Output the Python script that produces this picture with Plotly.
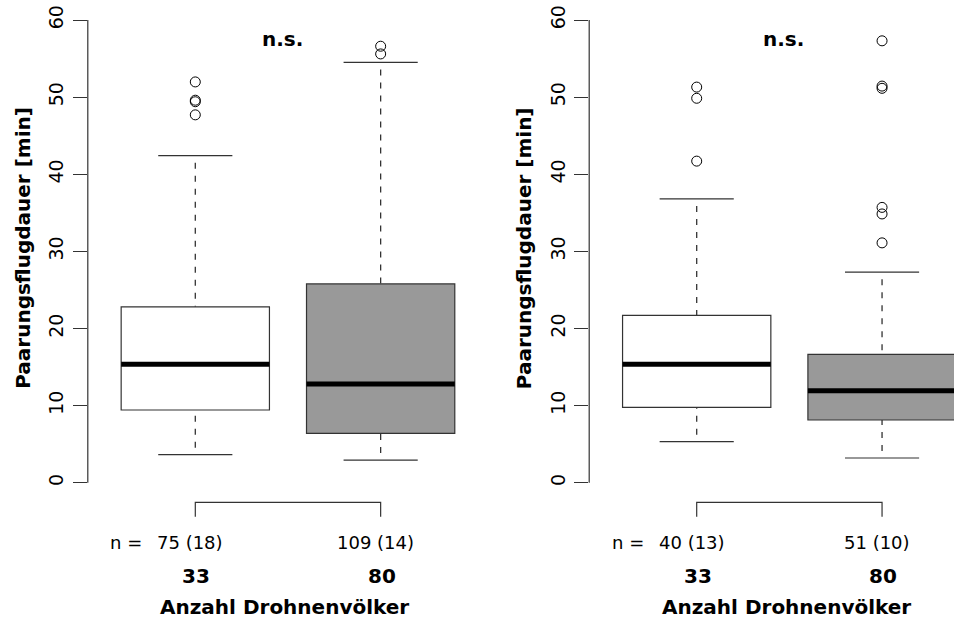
import plotly.graph_objects as go

# ---------------- data ----------------
groups = [1, 2]
group_labels = ["33", "80"]
box_colors = ["white", "#999999"]
y_ticks = [0, 10, 20, 30, 40, 50, 60]

# left panel
a_q1 = [9.43, 6.4]
a_med = [15.35, 12.8]
a_q3 = [22.8, 25.77]
a_wlo = [3.63, 2.94]
a_whi = [42.4, 54.5]
a_out = [[51.97, 49.6, 49.4, 47.7], [56.6, 55.6]]
a_n = ["75 (18)", "109 (14)"]

# right panel
b_q1 = [9.78, 8.13]
b_med = [15.35, 11.93]
b_q3 = [21.7, 16.65]
b_wlo = [5.32, 3.2]
b_whi = [36.8, 27.3]
b_out = [[51.3, 49.85, 41.7], [57.3, 51.43, 51.14, 35.7, 34.85, 31.1]]
b_n = ["40 (13)", "51 (10)"]

sig_label = "n.s."
x_title = "Anzahl Drohnenvölker"
y_title = "Paarungsflugdauer [min]"

# ---------------- geometry / style ----------------
W, H = 954, 621
FONT = "DejaVu Sans"
UNIT_PX = 185.35          # px per x unit
XR0 = 0.42
Y_TOP = 62.593
Y_BOT = -17.934
BOXHALF = 0.4
CAPHALF = 0.2
LINE_COL = "#333333"

def yp(px):
    return 1 - px / H

panels = [
    dict(xr="x", yr="y", left_px=87.8, q1=a_q1, med=a_med, q3=a_q3,
         wlo=a_wlo, whi=a_whi, out=a_out, n=a_n),
    dict(xr="x2", yr="y2", left_px=589.2, q1=b_q1, med=b_med, q3=b_q3,
         wlo=b_wlo, whi=b_whi, out=b_out, n=b_n),
]

fig = go.Figure()
shapes = []
annotations = []

for p in panels:
    xr, yr = p["xr"], p["yr"]
    for i, g in enumerate(groups):
        # whiskers (dashed), drawn from whisker end toward the box
        for wend, bedge in ((p["whi"][i], p["q3"][i]), (p["wlo"][i], p["q1"][i])):
            shapes.append(dict(type="line", xref=xr, yref=yr, x0=g, x1=g,
                               y0=wend, y1=bedge,
                               line=dict(color=LINE_COL, width=1.3, dash="0px,7px,6px,0px")))
            shapes.append(dict(type="line", xref=xr, yref=yr,
                               x0=g - CAPHALF, x1=g + CAPHALF, y0=wend, y1=wend,
                               line=dict(color=LINE_COL, width=1.2)))
        # box
        shapes.append(dict(type="rect", xref=xr, yref=yr,
                           x0=g - BOXHALF, x1=g + BOXHALF,
                           y0=p["q1"][i], y1=p["q3"][i],
                           fillcolor=box_colors[i],
                           line=dict(color=LINE_COL, width=1.2)))
        # median
        shapes.append(dict(type="line", xref=xr, yref=yr,
                           x0=g - BOXHALF, x1=g + BOXHALF,
                           y0=p["med"][i], y1=p["med"][i],
                           line=dict(color="black", width=5)))
        # outliers
        fig.add_trace(go.Scatter(
            x=[g] * len(p["out"][i]), y=p["out"][i], mode="markers",
            xaxis=xr, yaxis=yr, showlegend=False, hoverinfo="skip",
            marker=dict(symbol="circle-open", size=10, color="black",
                        line=dict(width=1, color="black")),
            cliponaxis=False))
        # n label
        annotations.append(dict(xref=xr, yref="paper", x=g, y=yp(542),
                                xshift=-5, text=p["n"][i], showarrow=False,
                                xanchor="center", yanchor="middle",
                                font=dict(family=FONT, size=18, color="black")))
        # group label
        annotations.append(dict(xref=xr, yref="paper", x=g, y=yp(575.5),
                                xshift=1, text="<b>%s</b>" % group_labels[i],
                                showarrow=False, xanchor="center", yanchor="middle",
                                font=dict(family=FONT, size=20, color="black")))
    # "n =" prefix
    annotations.append(dict(xref=xr, yref="paper", x=groups[0], y=yp(542),
                            xshift=-51, text="n =", showarrow=False,
                            xanchor="right", yanchor="middle",
                            font=dict(family=FONT, size=18, color="black")))
    # x title
    annotations.append(dict(xref=xr, yref="paper", x=(groups[0] + groups[1]) / 2,
                            y=yp(606.5), xshift=-3, text="<b>%s</b>" % x_title,
                            showarrow=False, xanchor="center", yanchor="middle",
                            font=dict(family=FONT, size=20, color="black")))
    # significance
    annotations.append(dict(xref=xr, yref="paper", x=1.47, y=yp(38.5),
                            text="<b>%s</b>" % sig_label, showarrow=False,
                            xanchor="center", yanchor="middle",
                            font=dict(family=FONT, size=20, color="black")))
    # y title
    annotations.append(dict(xref="paper", yref="paper",
                            x=(p["left_px"] - 65) / W, y=yp(248),
                            text="<b>%s</b>" % y_title, textangle=-90,
                            showarrow=False, xanchor="center", yanchor="middle",
                            font=dict(family=FONT, size=20, color="black")))
    # bracket
    shapes.append(dict(type="path", xref=xr, yref=yr,
                       path="M %g,%g L %g,%g L %g,%g L %g,%g" % (
                           groups[0], -4.41, groups[0], -2.54,
                           groups[1], -2.54, groups[1], -4.41),
                       line=dict(color=LINE_COL, width=1.2)))
    # y axis line (0..60)
    shapes.append(dict(type="line", xref=xr + " domain", yref=yr,
                       x0=0, x1=0, y0=y_ticks[0], y1=y_ticks[-1],
                       line=dict(color=LINE_COL, width=1.2)))

def xaxis(left_px):
    right_px = min(W, left_px + 2.16 * UNIT_PX)
    return dict(domain=[left_px / W, right_px / W],
                range=[XR0, XR0 + (right_px - left_px) / UNIT_PX],
                visible=False, fixedrange=True)

def yaxis(anchor):
    return dict(domain=[0, 1], range=[Y_BOT, Y_TOP], anchor=anchor,
                showgrid=False, zeroline=False, showline=False,
                ticks="outside", ticklen=14, tickwidth=1.2, tickcolor=LINE_COL,
                tickvals=y_ticks, ticktext=[str(v) for v in y_ticks],
                ticklabelstandoff=2,
                tickangle=-90, tickfont=dict(family=FONT, size=19, color="black"))

fig.update_layout(
    width=W, height=H, autosize=False,
    margin=dict(l=0, r=0, t=0, b=0, pad=0),
    paper_bgcolor="white", plot_bgcolor="white",
    xaxis=xaxis(panels[0]["left_px"]), yaxis=yaxis("x"),
    xaxis2=xaxis(panels[1]["left_px"]), yaxis2=yaxis("x2"),
    shapes=shapes, annotations=annotations, showlegend=False,
    font=dict(family=FONT, color="black"),
)

fig.write_html("out.html")
